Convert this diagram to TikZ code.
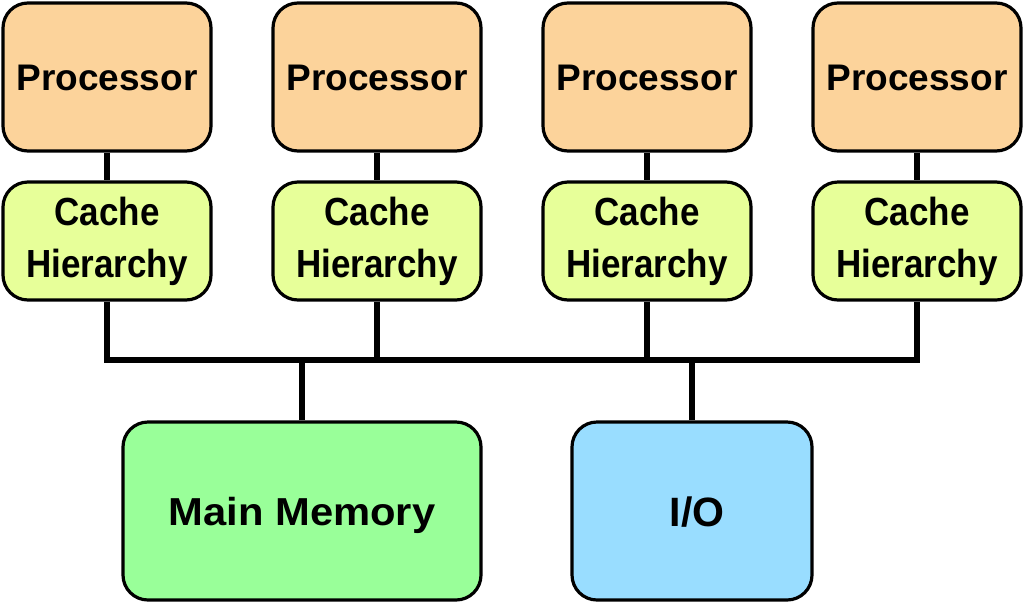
\documentclass[tikz,border=0pt]{standalone}
\usepackage{fontspec}
\usepackage{graphicx}
\setmainfont{Liberation Sans}
\definecolor{procfill}{RGB}{252,211,155}
\definecolor{cachefill}{RGB}{231,255,153}
\definecolor{memfill}{RGB}{153,255,153}
\definecolor{iofill}{RGB}{153,221,255}
\tikzset{
  box/.style={draw=black, line width=3.2pt, rounded corners=25pt, inner sep=0pt,
              font=\bfseries, align=center},
  procbox/.style={box, fill=procfill, minimum width=208pt, minimum height=148pt,
              font=\fontsize{37}{44}\selectfont\bfseries, text height=26pt, text depth=0pt},
  cachebox/.style={box, fill=cachefill, minimum width=208pt, minimum height=118pt},
  membox/.style={box, fill=memfill, minimum width=358pt, minimum height=178pt,
              text height=28pt, text depth=0pt},
  iobox/.style={box, fill=iofill, minimum width=240pt, minimum height=178pt,
              font=\fontsize{41}{48}\selectfont\bfseries, text height=31pt, text depth=0pt},
  wire/.style={draw=black, line width=6.5pt, line join=miter},
}
\newcommand{\cachetext}{\scalebox{1}[1.12]{\fontsize{35}{46.5}\selectfont\bfseries
  \begin{tabular}{@{}c@{}}Cache\\Hierarchy\end{tabular}}}
\newcommand{\memtext}{\scalebox{1.07}[1]{\fontsize{39}{46}\selectfont\bfseries Main Memory}}
\begin{document}
\begin{tikzpicture}[x=1pt,y=-1pt]
\useasboundingbox (0,0) rectangle (1024,603);
\fill[white] (0,0) rectangle (1024,603);
\coordinate (bus) at (0,360);
\node[procbox] (p1) at (107,77) {Processor};
\node[procbox] (p2) at (377,77) {Processor};
\node[procbox] (p3) at (647,77) {Processor};
\node[procbox] (p4) at (917,77) {Processor};
\node[cachebox] (c1) at (107,241) {\cachetext};
\node[cachebox] (c2) at (377,241) {\cachetext};
\node[cachebox] (c3) at (647,241) {\cachetext};
\node[cachebox] (c4) at (917,241) {\cachetext};
\node[membox] (mem) at (302,511) {\memtext};
\node[iobox] (io) at (692,511) {\hspace*{10pt}I/O};
\foreach \i in {1,2,3,4}{
  \draw[wire] (p\i.south) -- (c\i.north);
}
\draw[wire] (c1.south) -- (c1.south |- bus) -- (c4.south |- bus) -- (c4.south);
\draw[wire] (c2.south) -- (c2.south |- bus);
\draw[wire] (c3.south) -- (c3.south |- bus);
\draw[wire] (mem.north) -- (mem.north |- bus);
\draw[wire] (io.north) -- (io.north |- bus);
\end{tikzpicture}
\end{document}
